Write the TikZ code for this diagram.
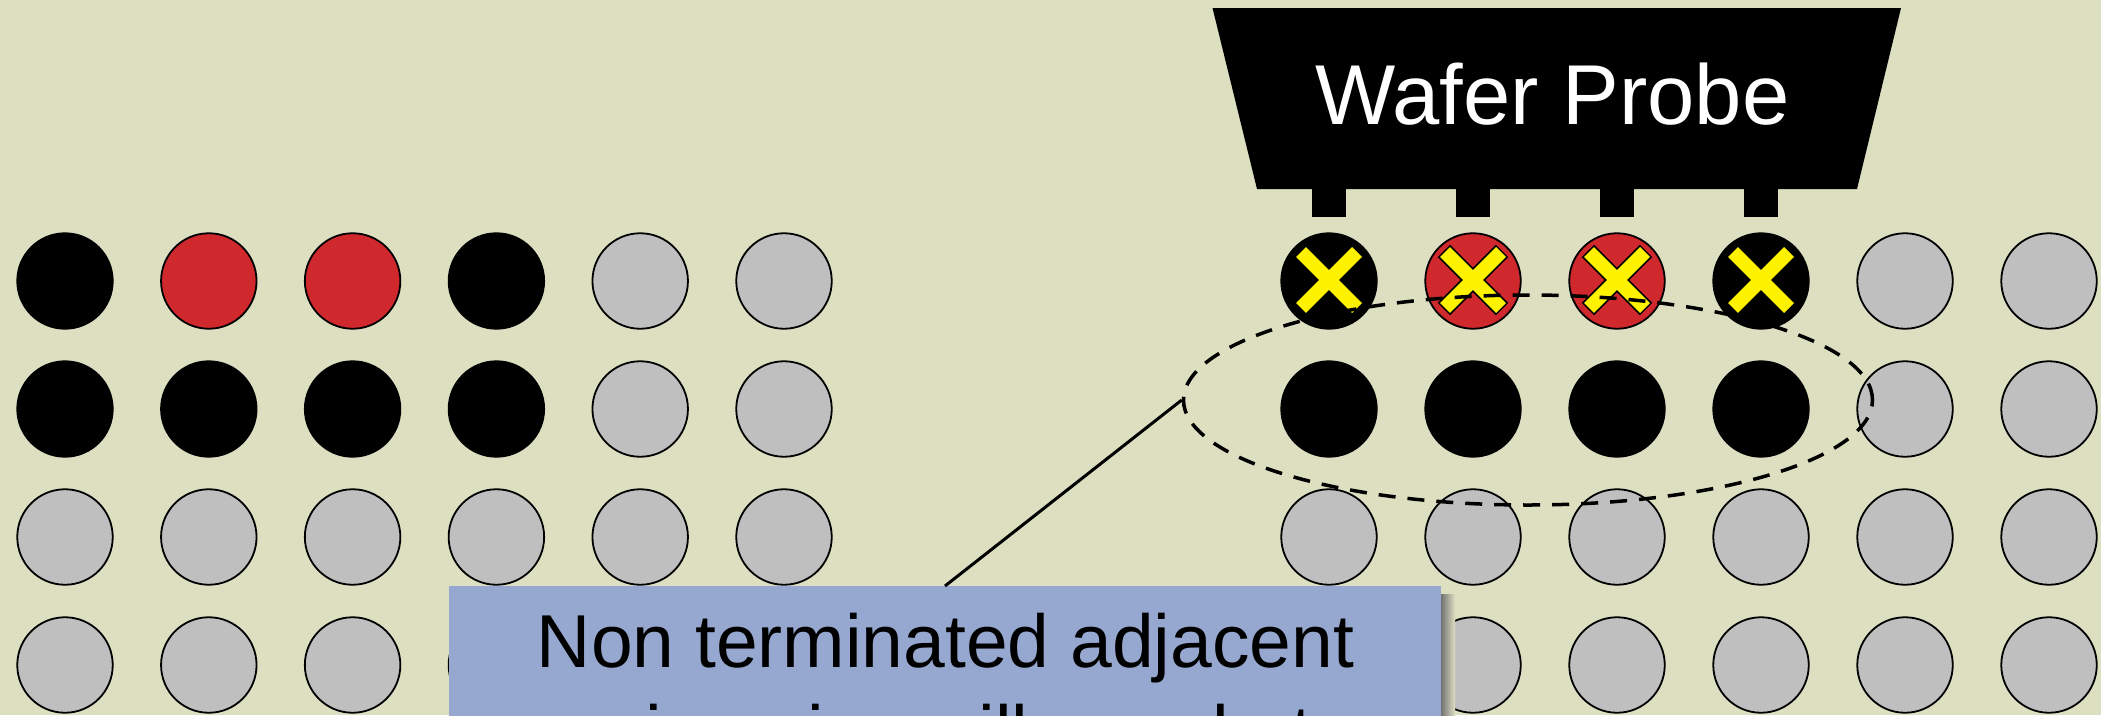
\documentclass[tikz,border=0pt]{standalone}
\usepackage{fontspec}
\usetikzlibrary{shapes.geometric}
\newfontfamily\arialf{Liberation Sans}
\definecolor{bgc}{RGB}{221,223,193}
\definecolor{boxc}{RGB}{151,168,208}
\definecolor{wred}{RGB}{207,40,45}
\definecolor{wgray}{RGB}{191,191,191}
\tikzset{
  dot/.style={circle, draw=black, line width=1.8pt, minimum size=95.5pt, inner sep=0pt},
  xmark/.pic={
    \draw[line width=17.5pt, line cap=butt, black]
      (-29.1,-29.1) -- (29.1,29.1) (29.1,-29.1) -- (-29.1,29.1);
    \draw[line width=14pt, line cap=butt, yellow]
      (-28,-28) -- (28,28) (28,-28) -- (-28,28);
  },
  tip/.style={fill=black},
  ring/.style={ellipse, draw=black, line width=3.5pt, dash pattern=on 17pt off 12pt, minimum width=689pt, minimum height=210pt, inner sep=0pt},
  callout/.style={fill=boxc, minimum width=992pt, minimum height=300pt, inner sep=0pt, anchor=north},
  link/.style={draw=black, line width=3pt}
}
\begin{document}
\begin{tikzpicture}[x=1pt,y=-1pt]
\useasboundingbox (0,0) rectangle (2101,715);
\fill[bgc] (0,0) rectangle (2101,715);
\clip (0,0) rectangle (2101,715);
% row 1
\foreach \c/\fc in {1/black,2/wred,3/wred,4/black,5/wgray,6/wgray}{
  \node[dot, fill=\fc] (L1\c) at ({65+143.8*(\c-1)},281) {};
  \node[dot, fill=\fc] (R1\c) at ({1329+144*(\c-1)},281) {};
}
% row 2
\foreach \c/\fc in {1/black,2/black,3/black,4/black,5/wgray,6/wgray}{
  \node[dot, fill=\fc] (L2\c) at ({65+143.8*(\c-1)},409) {};
  \node[dot, fill=\fc] (R2\c) at ({1329+144*(\c-1)},409) {};
}
% rows 3 and 4
\foreach \r/\y in {3/537,4/665}{
  \foreach \c in {1,...,6}{
    \node[dot, fill=wgray] (L\r\c) at ({65+143.8*(\c-1)},\y) {};
    \node[dot, fill=wgray] (R\r\c) at ({1329+144*(\c-1)},\y) {};
  }
}
% crosses
\foreach \c in {1,2,3,4}{
  \pic at ([yshift=1pt]R1\c.center) {xmark};
}
% wafer probe
\fill[black] (1212.5,8) -- (1901,8) -- (1857,189) -- (1257,189) -- cycle;
\foreach \c in {1,2,3,4}{
  \fill[tip] (R1\c.center) ++(-17,-96) rectangle ++(34,32);
}
\node[anchor=base, text=white, inner sep=0pt, font=\arialf\fontsize{85}{100}\selectfont] (probe) at (1552.5,124) {Wafer Probe};
% dashed ring
\node[ring] (ell) at (1528,400) {};
% callout
\shade[left color=black!55, right color=bgc] (1441,594) rectangle (1455,715);
\node[callout] (box) at (945,586) {};
\draw[link] (ell.west) -- (box.north);
\node[anchor=base, align=center, inner sep=0pt, font=\arialf\fontsize{75}{91.5}\selectfont] (cap) at (945.5,758.5) {Non terminated adjacent\\region pins will couple to};
\end{tikzpicture}
\end{document}
